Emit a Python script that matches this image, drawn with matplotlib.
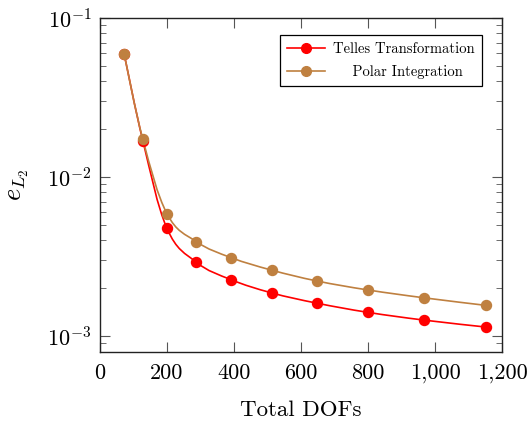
import numpy as np
import matplotlib
matplotlib.use("Agg")
import matplotlib.pyplot as plt
from matplotlib.path import Path
from matplotlib.patches import PathPatch
from matplotlib.lines import Line2D
from matplotlib import ticker

plt.rcParams['font.family'] = 'serif'
plt.rcParams['font.serif'] = ['cmr10']
plt.rcParams['mathtext.fontset'] = 'cm'
plt.rcParams['axes.formatter.use_mathtext'] = True

# data
dofs = [72, 128, 200, 288, 392, 512, 648, 800, 968, 1152]
telles = [0.0595, 0.0169, 0.00475, 0.00291, 0.00226, 0.00187, 0.00161, 0.00141, 0.00126, 0.00114]
polar = [0.0595, 0.01725, 0.00588, 0.00392, 0.00311, 0.0026, 0.00222, 0.00195, 0.00174, 0.00156]
labels = ['Telles Transformation', '    Polar Integration']
colors = ['#ff0000', '#bf8040']


def smooth_path(xs, ys, t=0.55 / 3):
    # pgf-like smooth curve through the points, built in (x, log y) space
    pts = np.column_stack([np.asarray(xs, float), np.log10(ys)])
    n = len(pts)
    verts = [pts[0]]
    codes = [Path.MOVETO]
    for i in range(n - 1):
        p0 = pts[i - 1] if i > 0 else pts[i]
        p1 = pts[i]
        p2 = pts[i + 1]
        p3 = pts[i + 2] if i + 2 < n else pts[i + 1]
        c1 = p1 + t * (p2 - p0)
        c2 = p2 - t * (p3 - p1)
        verts += [c1, c2, p2]
        codes += [Path.CURVE4] * 3
    verts = np.array(verts)
    verts[:, 1] = 10 ** verts[:, 1]
    return Path(verts, codes)


fig = plt.figure(figsize=(5.31, 4.23), dpi=100)
ax = fig.add_axes([100 / 531, 1 - 352 / 423, 402 / 531, 334 / 423])
ax.set_yscale('log')

handles = []
for ys, c, lab in zip([telles, polar], colors, labels):
    ax.add_patch(PathPatch(smooth_path(dofs, ys), fill=False, ec=c, lw=1.2, zorder=2))
    ax.plot(dofs, ys, 'o', color=c, ms=7.2, mec=c, zorder=3)
    handles.append(Line2D([], [], color=c, lw=1.2, marker='o', ms=7, label=lab))

ax.set_xlim(0, 1200)
ax.set_ylim(10 ** -3.1, 0.1)
ax.xaxis.set_major_locator(ticker.MultipleLocator(200))
ax.xaxis.set_major_formatter(ticker.FuncFormatter(lambda v, p: f"{int(v):,}"))
ax.yaxis.set_major_locator(ticker.LogLocator(base=10))
ax.yaxis.set_minor_locator(ticker.LogLocator(base=10, subs=np.arange(2, 10)))
ax.yaxis.set_minor_formatter(ticker.NullFormatter())

ax.tick_params(which='both', direction='in', top=True, right=True, colors='#555555',
               labelcolor='black', labelsize=16)
ax.tick_params(axis='x', which='major', pad=8)
ax.tick_params(axis='y', which='major', pad=6)
ax.tick_params(which='major', length=7, width=0.8)
ax.tick_params(which='minor', length=4, width=0.6)
for s in ax.spines.values():
    s.set_linewidth(1.0)
    s.set_color('#222222')

ax.set_xlabel('Total DOFs', fontsize=16.5, labelpad=13)
ax.set_ylabel('$e_{L_2}$', fontsize=19, labelpad=12)

leg = ax.legend(handles=handles, loc='upper right', bbox_to_anchor=(482 / 531, 1 - 35 / 423),
                bbox_transform=fig.transFigure, borderaxespad=0, fontsize=10.5, fancybox=False,
                framealpha=1, edgecolor='black', handlelength=2.6, handletextpad=0.55,
                labelspacing=0.6, borderpad=0.5)
leg.get_frame().set_linewidth(0.9)

fig.savefig('out.png', dpi=100)
